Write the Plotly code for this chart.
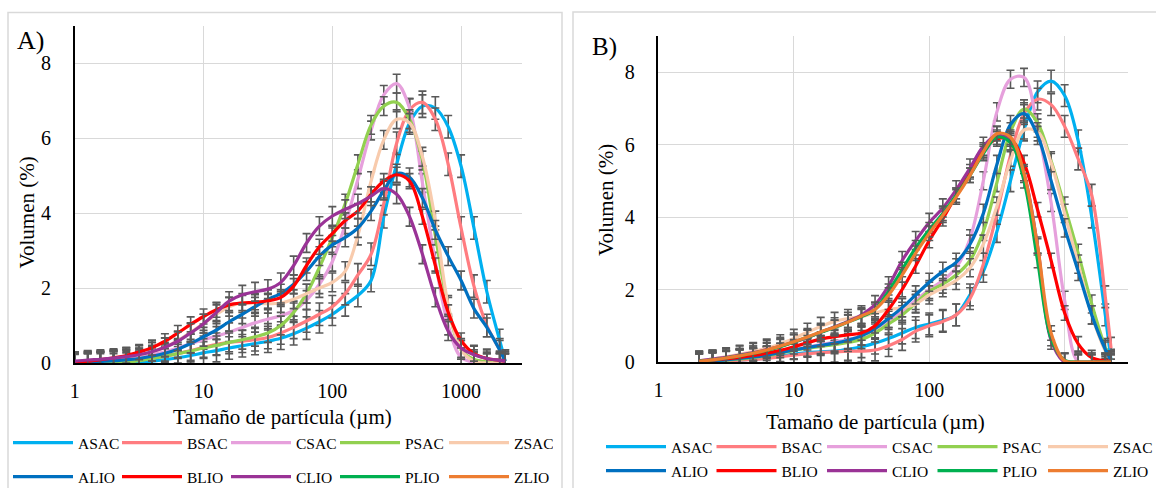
import plotly.graph_objects as go

W, H = 1156, 488
FONT = "Liberation Serif"

SERIES = ["ASAC", "BSAC", "CSAC", "PSAC", "ZSAC", "ALIO", "BLIO", "CLIO", "PLIO", "ZLIO"]
COLORS = ["#00B0F0", "#FF7C80", "#E6A0DC", "#92D050", "#F8CBAD",
          "#0070C0", "#FF0000", "#9A3396", "#00B050", "#ED7D31"]

# particle sizes (µm)
SIZES_A = [1.0, 1.26, 1.58, 2.0, 2.51, 3.16, 3.98, 5.01, 6.31, 7.94,
           10.0, 12.6, 15.8, 20.0, 25.1, 31.6, 39.8, 50.1, 63.1, 79.4,
           100, 126, 158, 200, 251, 316, 398, 501, 631, 794,
           1000, 1259, 1585, 1995, 2200]
SIZES_B = [2.0, 2.51, 3.16, 3.98, 5.01, 6.31, 7.94,
           10.0, 12.6, 15.8, 20.0, 25.1, 31.6, 39.8, 50.1, 63.1, 79.4,
           100, 126, 158, 200, 251, 316, 398, 501, 631, 794,
           1000, 1259, 1585, 1995, 2200]

# Panel A  (volume %)
A_ASAC = [0, 0, 0, 0, 0, .02, .05, .09, .14, .2,
          .27, .33, .4, .46, .52, .58, .66, .78, .93, 1.1,
          1.3, 1.55, 1.8, 2.2, 3.9, 5.3, 6.4, 6.85, 6.8, 6.3,
          5.25, 3.6, 1.9, .6, .05]
A_BSAC = [0, .01, .02, .04, .06, .09, .13, .18, .25, .33,
          .42, .5, .55, .58, .62, .68, .8, .95, 1.12, 1.3,
          1.5, 1.85, 2.35, 2.9, 4.25, 5.86, 6.75, 6.95, 6.5, 5.3,
          3.6, 2.05, 1.0, .35, .05]
A_CSAC = [0, .01, .03, .06, .1, .15, .22, .3, .4, .52,
          .62, .72, .82, .95, 1.07, 1.17, 1.26, 1.4, 1.68, 2.1,
          2.7, 3.7, 4.9, 6.2, 7.15, 7.45, 6.8, 4.8, 2.7, 1.0,
          .15, .02, 0, 0, 0]
A_PSAC = [0, 0, 0, 0, .02, .06, .12, .18, .25, .32,
          .4, .47, .55, .62, .7, .8, 1.0, 1.35, 1.85, 2.55,
          3.35, 4.25, 5.3, 6.35, 6.85, 6.95, 6.5, 5.4, 3.4, 1.5,
          .35, .1, .03, .01, 0]
A_ZSAC = [.02, .04, .07, .1, .15, .21, .3, .42, .6, .82,
          1.05, 1.3, 1.5, 1.6, 1.6, 1.58, 1.6, 1.7, 1.85, 2.0,
          2.15, 2.45, 3.4, 4.85, 5.95, 6.5, 6.4, 5.5, 3.8, 1.55,
          .35, .05, 0, 0, 0]
A_ALIO = [0, .02, .04, .06, .09, .12, .18, .26, .37, .52,
          .7, .88, 1.1, 1.3, 1.5, 1.7, 1.85, 2.1, 2.45, 2.85,
          3.15, 3.35, 3.6, 4.05, 4.6, 5.05, 4.95, 4.4, 3.55, 2.85,
          2.2, 1.45, .95, .35, .05]
A_BLIO = [.03, .05, .09, .14, .2, .29, .41, .58, .8, 1.03,
          1.24, 1.42, 1.55, 1.6, 1.62, 1.66, 1.75, 2.05, 2.6, 3.1,
          3.45, 3.8, 4.05, 4.5, 4.85, 5.02, 4.85, 3.9, 2.6, 1.35,
          .6, .25, .12, .07, .05]
A_CLIO = [.05, .08, .1, .13, .17, .22, .3, .42, .58, .8,
          1.05, 1.35, 1.65, 1.82, 1.9, 1.97, 2.15, 2.6, 3.2, 3.65,
          3.92, 4.1, 4.25, 4.45, 4.65, 4.5, 3.9, 2.9, 1.75, .85,
          .4, .22, .12, .07, .05]
A_PLIO = []   # listed in legend only, no curve drawn in panel A
A_ZLIO = []

# Panel B  (volume %)
B_ASAC = [0, .01, .03, .05, .08, .11, .16,
          .22, .26, .28, .3, .35, .42, .52, .65, .8, .95,
          1.05, 1.15, 1.3, 1.85, 2.5, 3.6, 5.0, 6.4, 7.45, 7.75,
          7.35, 6.1, 4.0, 1.3, .05]
B_BSAC = [0, .01, .03, .05, .07, .1, .14,
          .19, .23, .26, .28, .3, .3, .33, .45, .62, .85,
          1.0, 1.12, 1.3, 1.75, 2.7, 4.1, 5.7, 6.85, 7.25, 7.1,
          6.5, 5.6, 4.6, 1.8, .38]
B_CSAC = [0, .02, .05, .09, .13, .18, .25,
          .33, .41, .48, .55, .62, .72, .9, 1.15, 1.4, 1.7,
          2.0, 2.25, 2.6, 3.4, 5.0, 6.9, 7.8, 7.85, 6.45, 4.4,
          1.7, 0, 0, 0, 0]
B_PSAC = [0, .02, .05, .08, .12, .17, .24,
          .32, .38, .43, .48, .54, .62, .8, 1.05, 1.3, 1.62,
          1.95, 2.15, 2.4, 2.8, 3.6, 4.95, 6.35, 6.98, 6.6, 5.55,
          4.3, 3.0, 1.6, .4, .05]
B_ZSAC = [.03, .08, .14, .21, .29, .38, .5,
          .65, .82, .98, 1.12, 1.2, 1.25, 1.35, 1.45, 1.5, 1.6,
          1.85, 2.05, 2.25, 2.6, 3.25, 4.3, 5.55, 6.4, 6.35, 5.5,
          4.1, 2.7, 1.3, .3, .05]
B_ALIO = [0, .03, .06, .1, .14, .19, .26,
          .33, .4, .46, .52, .6, .72, .92, 1.2, 1.5, 1.85,
          2.2, 2.5, 2.75, 3.25, 4.1, 5.45, 6.55, 6.85, 6.25, 5.0,
          3.7, 2.5, 1.3, .35, .05]
B_BLIO = [.02, .05, .09, .13, .18, .24, .32,
          .42, .53, .63, .7, .75, .8, 1.0, 1.45, 2.0, 2.65,
          3.35, 3.95, 4.6, 5.25, 5.85, 6.15, 6.15, 5.5, 4.2, 2.8,
          1.35, .5, .12, .03, .02]
B_CLIO = [.03, .08, .13, .19, .26, .34, .43,
          .55, .67, .82, .97, 1.12, 1.3, 1.58, 2.1, 2.8, 3.35,
          3.85, 4.25, 4.75, 5.35, 5.95, 6.25, 6.1, 5.2, 3.2, .6,
          0, 0, 0, 0, 0]
B_PLIO = [.02, .06, .11, .17, .24, .32, .42,
          .55, .68, .82, .95, 1.1, 1.25, 1.45, 1.95, 2.55, 3.15,
          3.65, 4.1, 4.6, 5.15, 5.75, 6.2, 6.05, 5.0, 2.8, .65,
          .05, 0, 0, 0, 0]
B_ZLIO = [.02, .06, .11, .17, .24, .33, .44,
          .56, .69, .83, .96, 1.1, 1.27, 1.45, 1.85, 2.4, 3.0,
          3.55, 4.05, 4.55, 5.15, 5.8, 6.3, 6.2, 5.2, 3.2, .8,
          .03, 0, 0, 0, 0]

# standard deviation (error bar) per series
ERR_A = [0.3, 0.3, 0.25, 0.25, 0.25, 0.25, 0.2, 0.25, 0.0, 0.0]
ERR_B = [0.3, 0.3, 0.25, 0.25, 0.25, 0.25, 0.2, 0.25, 0.2, 0.2]

PANEL_A = [A_ASAC, A_BSAC, A_CSAC, A_PSAC, A_ZSAC, A_ALIO, A_BLIO, A_CLIO, A_PLIO, A_ZLIO]
PANEL_B = [B_ASAC, B_BSAC, B_CSAC, B_PSAC, B_ZSAC, B_ALIO, B_BLIO, B_CLIO, B_PLIO, B_ZLIO]

fig = go.Figure()


def add_panel(values, sizes, errs, xa, ya, legends):
    for i, (name, col, y) in enumerate(zip(SERIES, COLORS, values)):
        has = len(y) > 0
        fig.add_trace(go.Scatter(
            x=sizes if has else [None], y=y if has else [None],
            name=name, mode="lines",
            line=dict(color=col, width=3.2, shape="spline", smoothing=1.0),
            error_y=dict(type="constant", value=errs[i], color="#595959",
                         thickness=1.6, width=4, visible=has),
            xaxis=xa, yaxis=ya, hoverinfo="skip",
            legend=legends[0] if i < 5 else legends[1],
        ))


add_panel(PANEL_A, SIZES_A, ERR_A, "x", "y", ["legend", "legend2"])
add_panel(PANEL_B, SIZES_B, ERR_B, "x2", "y2", ["legend3", "legend4"])


def px_x(v):
    return v / W


def px_y(v):
    return (H - v) / H


axis_common = dict(showgrid=True, gridcolor="#D9D9D9", gridwidth=1.3,
                   showline=True, linecolor="#000000", linewidth=1.5,
                   zeroline=False, ticks="",
                   tickfont=dict(family=FONT, size=20, color="#000000"))

xa_common = dict(type="log", range=[0, 3.47], tickvals=[1, 10, 100, 1000],
                 ticktext=["1", "10", "100", "1000"], ticklabelstandoff=9,
                 **axis_common)
ya_common = dict(range=[0, 9], tickvals=[0, 2, 4, 6, 8], ticklabelstandoff=18,
                 **axis_common)

leg_common = dict(orientation="h", xanchor="left", yanchor="middle",
                  font=dict(family=FONT, size=15.5, color="#000000"),
                  bgcolor="rgba(0,0,0,0)", itemwidth=60,
                  tracegroupgap=0, borderwidth=0)

fig.update_layout(
    width=W, height=H, autosize=False,
    margin=dict(l=0, r=0, t=0, b=0, autoexpand=False),
    paper_bgcolor="white", plot_bgcolor="white",
    xaxis=dict(domain=[px_x(74.8), px_x(521.6)], anchor="y", **xa_common),
    yaxis=dict(domain=[px_y(363), px_y(25.5)], anchor="x", **ya_common),
    xaxis2=dict(domain=[px_x(658.4), px_x(1128.3)], anchor="y2", **xa_common),
    yaxis2=dict(domain=[px_y(362), px_y(35.75)], anchor="x2", **ya_common),
    legend=dict(x=px_x(8), y=px_y(443), entrywidth=34, **leg_common),
    legend2=dict(x=px_x(8), y=px_y(477), entrywidth=34, **leg_common),
    legend3=dict(x=px_x(601), y=px_y(447), entrywidth=35.5, **leg_common),
    legend4=dict(x=px_x(601), y=px_y(471), entrywidth=35.5, **leg_common),
    showlegend=True,
)

# panel frames
fig.add_shape(type="rect", xref="paper", yref="paper",
              x0=px_x(8), x1=px_x(562), y0=px_y(490), y1=px_y(12.5),
              line=dict(color="#D9D9D9", width=1.5), layer="below")
fig.add_shape(type="rect", xref="paper", yref="paper",
              x0=px_x(573), x1=px_x(1160), y0=px_y(490), y1=px_y(12),
              line=dict(color="#D9D9D9", width=1.5), layer="below")

txt = dict(family=FONT, color="#000000")
ann = [
    dict(text="A)", x=px_x(15), y=px_y(41), xanchor="left", yanchor="middle", font=dict(size=26, **txt)),
    dict(text="B)", x=px_x(590), y=px_y(47), xanchor="left", yanchor="middle", font=dict(size=25, **txt)),
    dict(text="Volumen (%)", x=px_x(26.5), y=px_y(213), textangle=-90, xanchor="center", yanchor="middle", font=dict(size=21, **txt)),
    dict(text="Volumen (%)", x=px_x(606), y=px_y(200), textangle=-90, xanchor="center", yanchor="middle", font=dict(size=21, **txt)),
    dict(text="Tamaño de partícula (µm)", x=px_x(282), y=px_y(417), xanchor="center", yanchor="middle", font=dict(size=21, **txt)),
    dict(text="Tamaño de partícula (µm)", x=px_x(875), y=px_y(422), xanchor="center", yanchor="middle", font=dict(size=21, **txt)),
]
for a in ann:
    fig.add_annotation(xref="paper", yref="paper", showarrow=False, **a)

fig.write_html("out.html", config={"displayModeBar": False},
               post_script="document.body.style.margin='0';")
